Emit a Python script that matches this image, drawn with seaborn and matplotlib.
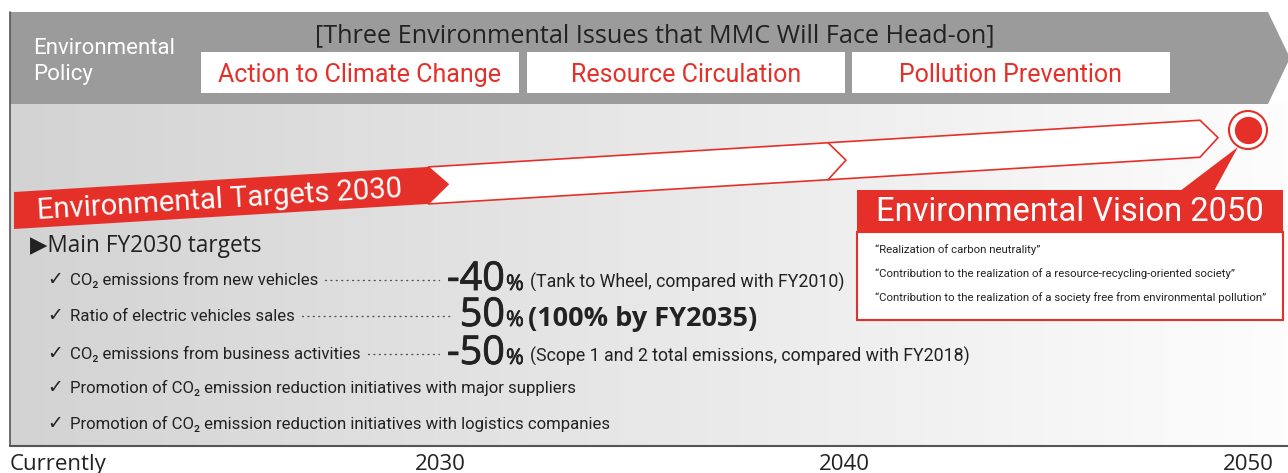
import numpy as np
import matplotlib.pyplot as plt
import matplotlib.patches as mpatches
import matplotlib.patheffects as pe
from matplotlib import font_manager
from matplotlib.colors import LinearSegmentedColormap
import seaborn as sns

# ---- content ----
timeline_labels = ["Currently", "2030", "2040", "2050"]
timeline_years = [2020, 2030, 2040, 2050]

policy_title = "[Three Environmental Issues that MMC Will Face Head-on]"
issues = ["Action to Climate Change", "Resource Circulation", "Pollution Prevention"]

targets_title = "Environmental Targets 2030"
targets_header = "\u25b6Main FY2030 targets"
target_items = [
    "CO\u2082 emissions from new vehicles",
    "Ratio of electric vehicles sales",
    "CO\u2082 emissions from business activities",
    "Promotion of CO\u2082 emission reduction initiatives with major suppliers",
    "Promotion of CO\u2082 emission reduction initiatives with logistics companies",
]
target_values = [-40, 50, -50]
target_notes = [
    "(Tank to Wheel, compared with FY2010)",
    "(100% by FY2035)",
    "(Scope 1 and 2 total emissions, compared with FY2018)",
]

vision_title = "Environmental Vision 2050"
vision_quotes = [
    "\u201cRealization of carbon neutrality\u201d",
    "\u201cContribution to the realization of a resource-recycling-oriented society\u201d",
    "\u201cContribution to the realization of a society free from environmental pollution\u201d",
]

RED = "#e5302a"
GREY = "#9b9b9b"
DARK = "#222222"

sns.set_theme(style="white")
fonts = font_manager.fontManager.ttflist
names = {f.name for f in fonts}
NARROW = "Liberation Sans Narrow" if "Liberation Sans Narrow" in names else "Roboto"
narrow_scale = 1.0 if NARROW == "Liberation Sans Narrow" else 0.85


def has_bold(name):
    return any(f.name == name and f.weight in ("bold", 700, 600, "semibold", "demibold") for f in fonts)


GEO = "Noto Sans"
for cand in ["Noto Sans", "Open Sans", "Lato", "Inter", "DejaVu Sans"]:
    if has_bold(cand):
        GEO = cand
        break

plt.rcParams["font.family"] = ["Roboto", "DejaVu Sans"]

W, H = 1288, 473
fig = plt.figure(figsize=(W / 100, H / 100), dpi=100)
ax = fig.add_axes([0, 0, 1, 1])


def year_x(year):
    return 440 + (year - 2030) * 40.4


# background gradient panel
grad = np.linspace(0, 1, 256).reshape(1, -1)
cmap = LinearSegmentedColormap.from_list("bg", ["#d3d3d3", "#fdfdfd"])
ax.imshow(grad, extent=[10, W, 446, 104], cmap=cmap, aspect="auto", zorder=0)

# header band
ax.add_patch(mpatches.Polygon([(10, 12), (1268, 12), (1290, 58), (1268, 104), (10, 104)],
                              closed=True, fc=GREY, ec="none", zorder=1))
ax.plot([10, 10], [12, 446], color="#555555", lw=1.2, zorder=2)
ax.plot([10, W], [446, 446], color="#555555", lw=1.5, zorder=2)

ax.text(33, 54, "Environmental", color="white", fontsize=16, va="baseline", zorder=3)
ax.text(33, 80, "Policy", color="white", fontsize=16, va="baseline", zorder=3)
ax.text(655, 42, policy_title, color=DARK, fontsize=18.2, ha="center", va="baseline",
        family=[GEO, "DejaVu Sans"], zorder=3)

box_left = [201, 527, 852]
for x0, label in zip(box_left, issues):
    ax.add_patch(mpatches.Rectangle((x0, 52), 318, 41, fc="white", ec="none", zorder=2))
    ax.text(x0 + 159, 82, label, color=RED, fontsize=18, ha="center", va="baseline", zorder=3)

# ribbon towards 2050
def top(x):
    return 192 - 0.0605 * (x - 14)


th = 37
ax.add_patch(mpatches.Polygon([(428, top(428)), (1200, top(1200)), (1218, top(1218) + th / 2),
                               (1200, top(1200) + th), (428, top(428) + th), (448, top(448) + th / 2)],
                              closed=True, fc="white", ec=RED, lw=1.2, zorder=3))
ax.plot([828, 846, 828], [top(828), top(846) + th / 2, top(828) + th], color=RED, lw=1.2, zorder=4)
ax.add_patch(mpatches.Polygon([(14, top(14)), (428, top(428)), (448, top(448) + th / 2),
                               (428, top(428) + th), (14, top(14) + th)],
                              closed=True, fc=RED, ec="none", zorder=4))
ax.text(220, top(220) + th / 2 + 2, targets_title, color="white", fontsize=21, rotation=3.46,
        rotation_mode="anchor", ha="center", va="center", zorder=5)

# 2050 dot
cx, cy = year_x(2050), 130
ax.add_patch(mpatches.Circle((cx, cy), 19, fc="white", ec=RED, lw=1.5, zorder=5))
sns.scatterplot(x=[cx], y=[cy], s=330, color=RED, edgecolor=RED, ax=ax, legend=False, zorder=6)

# vision callout
ax.add_patch(mpatches.Polygon([(1180, 191), (1214, 191), (1238, 147)], closed=True,
                              fc=RED, ec="none", zorder=5))
ax.add_patch(mpatches.Rectangle((857, 232), 426, 88, fc="white", ec=RED, lw=1.5, zorder=5))
ax.add_patch(mpatches.Rectangle((857, 190), 426, 42, fc=RED, ec="none", zorder=6))
ax.text(1070, 221, vision_title, color="white", fontsize=23.5, ha="center", va="baseline", zorder=7)
for i, q in enumerate(vision_quotes):
    ax.text(875, 253 + i * 24, q, color=DARK, fontsize=9.6 * narrow_scale, va="baseline",
            family=[NARROW, "DejaVu Sans"], zorder=7)

# targets list
ax.text(30, 252, targets_header, color=DARK, fontsize=16.3, va="baseline",
        family=[GEO, "DejaVu Sans"], zorder=3)
row_base = [285, 321, 359, 393, 429]
item_texts = []
for yb, item in zip(row_base, target_items):
    ax.text(47, yb, "\u2713", color=DARK, fontsize=13.5, va="baseline", family="DejaVu Sans", zorder=3)
    t = ax.text(70, yb, item, color=DARK, fontsize=14.2 * narrow_scale, va="baseline",
                family=[NARROW, "DejaVu Sans"], zorder=3)
    item_texts.append(t)

thick = [pe.withStroke(linewidth=0.6, foreground=DARK)]
num_texts = []
for i, (val, note) in enumerate(zip(target_values, target_notes)):
    yb = row_base[i] + 5
    n = ax.text(505, yb, f"{val}", color=DARK, fontsize=28.5, ha="right", va="baseline",
                family=[GEO, "DejaVu Sans"], path_effects=thick, zorder=3)
    num_texts.append(n)
    ax.text(506, yb, "%", color=DARK, fontsize=15.5, va="baseline",
            family=[GEO, "DejaVu Sans"], path_effects=[pe.withStroke(linewidth=0.5, foreground=DARK)],
            zorder=3)
    if i == 1:
        ax.text(528, yb, note, color=DARK, fontsize=19.5, weight="bold", va="baseline",
                family=[GEO, "DejaVu Sans"], zorder=3)
    else:
        ax.text(530, yb - 2, note, color=DARK, fontsize=15 * narrow_scale, va="baseline",
                family=[NARROW, "DejaVu Sans"], zorder=3)

# timeline labels
for lab, yr in zip(timeline_labels, timeline_years):
    ha = "left" if lab == "Currently" else "center"
    x = 10 if lab == "Currently" else year_x(yr)
    ax.text(x, 470, lab, color=DARK, fontsize=16, ha=ha, va="baseline",
            family=[GEO, "DejaVu Sans"], zorder=3)

ax.set_xlim(0, W)
ax.set_ylim(H, 0)
ax.axis("off")

# dotted leaders between item text and value
fig.canvas.draw()
renderer = fig.canvas.get_renderer()
inv = ax.transData.inverted()
for i in range(len(target_values)):
    ex = inv.transform(item_texts[i].get_window_extent(renderer).get_points())
    nx = inv.transform(num_texts[i].get_window_extent(renderer).get_points())
    x_start = ex[1, 0] + 7
    x_end = nx[0, 0] - 8
    yb = row_base[i] - 5
    ax.plot([x_start, x_end], [yb, yb], color="#555555", lw=1.0, ls=(0, (0.7, 3.2)),
            dash_capstyle="round", zorder=3)

fig.savefig("out.png", dpi=100)
